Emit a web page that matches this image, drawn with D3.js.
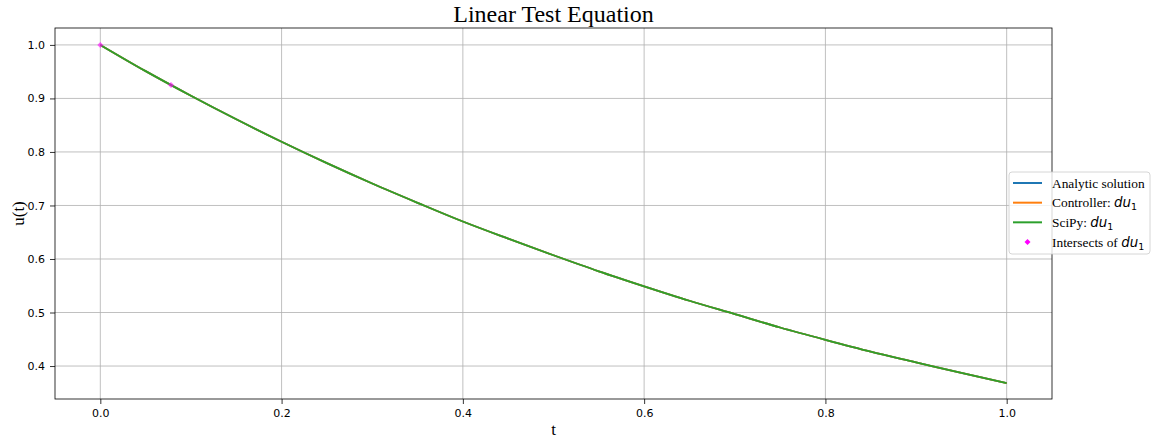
<!DOCTYPE html>
<html>
<head>
<meta charset="utf-8">
<script src="https://cdn.jsdelivr.net/npm/d3@7"></script>
<style>
  body { margin: 0; background: #fff; }
  .tick text { font-family: "DejaVu Sans", sans-serif; font-size: 11px; fill: #000; }
</style>
</head>
<body>
<div class="canva"></div>
<script>
// t values and u(t)
const tValues = [0.0, 0.05, 0.1, 0.15, 0.2, 0.25, 0.3, 0.35, 0.4, 0.45, 0.5,
                 0.55, 0.6, 0.65, 0.7, 0.75, 0.8, 0.85, 0.9, 0.95, 1.0];
const analytic = [1.0, 0.951, 0.905, 0.861, 0.819, 0.779, 0.741, 0.705, 0.670, 0.638, 0.607,
                  0.577, 0.549, 0.522, 0.497, 0.472, 0.449, 0.427, 0.407, 0.387, 0.368];
const controller = analytic.slice();
const scipy = analytic.slice();
const intersectT = [0.0, 0.078];
const intersectU = [1.0, 0.925];
const xTicks = [0.0, 0.2, 0.4, 0.6, 0.8, 1.0];
const yTicks = [0.4, 0.5, 0.6, 0.7, 0.8, 0.9, 1.0];

const width = 1155, height = 441;
const margin = {top: 28, right: 103, bottom: 42, left: 55};
const plotW = width - margin.left - margin.right;
const plotH = height - margin.top - margin.bottom;

const svg = d3.select(".canva").append("svg")
    .attr("width", width)
    .attr("height", height);

const x = d3.scaleLinear().domain([-0.05, 1.05]).range([0, plotW]);
const y = d3.scaleLinear().domain([0.3384, 1.0316]).range([plotH, 0]);

const g = svg.append("g").attr("transform", `translate(${margin.left},${margin.top})`);

// grid
g.append("g").selectAll("line").data(xTicks).join("line")
    .attr("x1", d => x(d)).attr("x2", d => x(d))
    .attr("y1", 0).attr("y2", plotH)
    .attr("stroke", "#b0b0b0").attr("stroke-width", 0.8);
g.append("g").selectAll("line").data(yTicks).join("line")
    .attr("y1", d => y(d)).attr("y2", d => y(d))
    .attr("x1", 0).attr("x2", plotW)
    .attr("stroke", "#b0b0b0").attr("stroke-width", 0.8);

// axes
const xAxis = g.append("g").attr("transform", `translate(0,${plotH})`)
    .call(d3.axisBottom(x).tickValues(xTicks).tickFormat(d3.format(".1f")).tickSize(5).tickPadding(5));
const yAxis = g.append("g")
    .call(d3.axisLeft(y).tickValues(yTicks).tickFormat(d3.format(".1f")).tickSize(5).tickPadding(5));
[xAxis, yAxis].forEach(a => {
  a.select(".domain").remove();
  a.selectAll(".tick line").attr("stroke", "#000").attr("stroke-width", 0.8);
});

// data
const line = d3.line().x(d => x(d[0])).y(d => y(d[1])).curve(d3.curveMonotoneX);
const series = [
  {vals: analytic, color: "#1f77b4"},
  {vals: controller, color: "#ff7f0e"},
  {vals: scipy, color: "#2ca02c"}
];

const diamond = d3.symbol().type(d3.symbolSquare).size(18);

series.forEach(s => {
  g.append("path")
    .datum(tValues.map((t, i) => [t, s.vals[i]]))
    .attr("fill", "none")
    .attr("stroke", s.color)
    .attr("stroke-width", 1.8)
    .attr("d", line);
});

g.append("g").selectAll("path").data(intersectT).join("path")
    .attr("d", diamond)
    .attr("transform", (d, i) => `translate(${x(d)},${y(intersectU[i])}) rotate(45)`)
    .attr("fill", "#ff00ff").attr("fill-opacity", 0.6);

// frame
g.append("rect").attr("width", plotW).attr("height", plotH)
    .attr("fill", "none").attr("stroke", "#000").attr("stroke-width", 0.8);

// title and labels
svg.append("text")
    .attr("x", margin.left + plotW / 2).attr("y", 22)
    .attr("text-anchor", "middle")
    .attr("font-family", "Liberation Serif, serif")
    .attr("font-size", 24)
    .text("Linear Test Equation");
svg.append("text")
    .attr("x", margin.left + plotW / 2).attr("y", 435)
    .attr("text-anchor", "middle")
    .attr("font-family", "Liberation Serif, serif")
    .attr("font-size", 17)
    .text("t");
svg.append("text")
    .attr("transform", `translate(24,${margin.top + plotH / 2}) rotate(-90)`)
    .attr("text-anchor", "middle")
    .attr("font-family", "Liberation Serif, serif")
    .attr("font-size", 17)
    .text("u(t)");

// legend
const legend = svg.append("g").attr("transform", "translate(1009,172)");
legend.append("rect")
    .attr("width", 141).attr("height", 82)
    .attr("rx", 3)
    .attr("fill", "#fff").attr("fill-opacity", 0.8)
    .attr("stroke", "#ccc").attr("stroke-width", 0.8);

const items = [
  {label: "Analytic solution", color: "#1f77b4", kind: "line"},
  {label: "Controller: ", color: "#ff7f0e", kind: "line", math: true},
  {label: "SciPy: ", color: "#2ca02c", kind: "line", math: true},
  {label: "Intersects of ", color: "#ff00ff", kind: "dot", math: true}
];
const rowY = d3.scalePoint().domain(d3.range(items.length)).range([11, 70]);

items.forEach((it, i) => {
  const row = legend.append("g").attr("transform", `translate(0,${rowY(i)})`);
  if (it.kind === "line") {
    row.append("line").attr("x1", 4).attr("x2", 33).attr("y1", 0).attr("y2", 0)
      .attr("stroke", it.color).attr("stroke-width", 2);
  } else {
    row.append("path").attr("d", diamond)
      .attr("transform", "translate(18.5,0) rotate(45)")
      .attr("fill", it.color);
  }
  const t = row.append("text")
    .attr("x", 43).attr("y", 4.5)
    .attr("font-family", "Liberation Serif, serif")
    .attr("font-size", 13.4)
    .text(it.label);
  if (it.math) {
    t.append("tspan").attr("font-family", "DejaVu Sans, sans-serif")
      .attr("font-style", "italic").text("du");
    t.append("tspan").attr("font-family", "DejaVu Sans, sans-serif")
      .attr("font-size", 9.5).attr("dy", 3).text("1");
  }
});
</script>
</body>
</html>
